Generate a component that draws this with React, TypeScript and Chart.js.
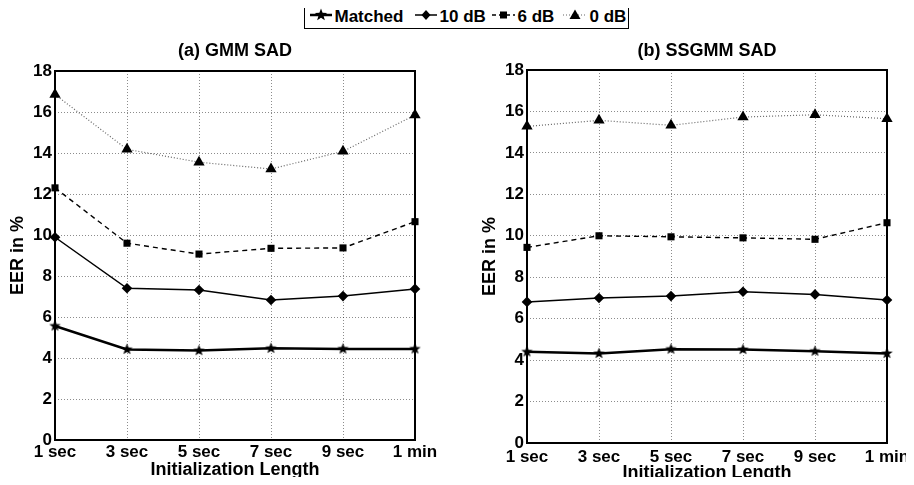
import React, { useEffect, useRef } from "react";
import { Chart, registerables } from "chart.js";
Chart.register(...registerables);

const categories = ["1 sec", "3 sec", "5 sec", "7 sec", "9 sec", "1 min"];
const seriesNames = ["Matched", "10 dB", "6 dB", "0 dB"];
const panelTitles = ["(a) GMM SAD", "(b) SSGMM SAD"];
const xAxisTitle = "Initialization Length";
const yAxisTitle = "EER in %";
const yMin = 0;
const yMax = 18;
const yStep = 2;

// (a) GMM SAD
const gmmMatched = [5.56, 4.42, 4.36, 4.47, 4.44, 4.44];
const gmm10dB = [9.89, 7.4, 7.32, 6.83, 7.02, 7.37];
const gmm6dB = [12.3, 9.6, 9.07, 9.35, 9.37, 10.65];
const gmm0dB = [16.85, 14.18, 13.55, 13.22, 14.08, 15.85];

// (b) SSGMM SAD
const ssMatched = [4.4, 4.32, 4.53, 4.51, 4.43, 4.32];
const ss10dB = [6.81, 7.0, 7.09, 7.3, 7.17, 6.9];
const ss6dB = [9.44, 10.0, 9.95, 9.9, 9.83, 10.63];
const ss0dB = [15.28, 15.57, 15.33, 15.73, 15.84, 15.65];

const FONT = "'Liberation Sans', Arial, Helvetica, sans-serif";

function makeStar(size: number): HTMLCanvasElement {
  const c = document.createElement("canvas");
  c.width = size;
  c.height = size;
  const ctx = c.getContext("2d")!;
  const cx = size / 2, cy = size / 2;
  const R = size / 2 - 0.5, r = R * 0.42;
  ctx.beginPath();
  for (let i = 0; i < 10; i++) {
    const rad = i % 2 === 0 ? R : r;
    const a = -Math.PI / 2 + (i * Math.PI) / 5;
    const px = cx + rad * Math.cos(a), py = cy + rad * Math.sin(a);
    if (i === 0) ctx.moveTo(px, py); else ctx.lineTo(px, py);
  }
  ctx.closePath();
  ctx.fillStyle = "#000";
  ctx.fill();
  return c;
}

function buildDatasets(vals: number[][]) {
  const star = makeStar(13);
  return [
    {
      label: seriesNames[0], data: vals[0], borderColor: "#000", borderWidth: 2.5,
      pointStyle: star as any, pointRadius: 6.5, backgroundColor: "#000", clip: false as any,
    },
    {
      label: seriesNames[1], data: vals[1], borderColor: "#000", borderWidth: 1.5,
      pointStyle: "rectRot", pointRadius: 5.3, backgroundColor: "#000", pointBorderWidth: 0, clip: false as any,
    },
    {
      label: seriesNames[2], data: vals[2], borderColor: "#000", borderWidth: 1.4, borderDash: [5, 4],
      pointStyle: "rect", pointRadius: 5, backgroundColor: "#000", pointBorderWidth: 0, clip: false as any,
    },
    {
      label: seriesNames[3], data: vals[3], borderColor: "#666", borderWidth: 1.2, borderDash: [1, 2],
      pointStyle: "triangle", pointRadius: 6.5, backgroundColor: "#000", pointBorderColor: "#000", pointBorderWidth: 0, clip: false as any,
    },
  ];
}

type PanelProps = {
  title: string;
  vals: number[][];
  left: number; top: number; width: number; height: number;
  areaLeft: number; areaRight: number; areaTop: number; areaBottom: number;
  titleY: number; yTitlePad: number; xTitlePad: number; xTickPad: number;
};

function Panel(p: PanelProps) {
  const ref = useRef<HTMLCanvasElement>(null);
  useEffect(() => {
    const boxPlugin = {
      id: "boxPlugin",
      beforeDatasetsDraw(chart: any) {
        const { ctx, chartArea: a } = chart;
        ctx.save();
        ctx.strokeStyle = "#000";
        ctx.lineWidth = 2;
        ctx.setLineDash([]);
        ctx.strokeRect(a.left, a.top, a.right - a.left, a.bottom - a.top);
        ctx.restore();
      },
      afterDraw(chart: any) {
        const { ctx, chartArea: a } = chart;
        ctx.save();
        ctx.font = `bold 18px ${FONT}`;
        ctx.fillStyle = "#000";
        ctx.textAlign = "center";
        ctx.textBaseline = "middle";
        ctx.fillText(p.title, (a.left + a.right) / 2, p.titleY);
        ctx.restore();
      },
    };
    const tickFont = { family: FONT, size: 17, weight: "bold" as const };
    const titleFont = { family: FONT, size: 18, weight: "bold" as const };
    const chart = new Chart(ref.current!, {
      type: "line",
      data: { labels: categories, datasets: buildDatasets(p.vals) as any },
      options: {
        responsive: false,
        animation: false,
        layout: { padding: { left: 0, right: p.width - p.areaRight, top: p.areaTop, bottom: 0 } },
        plugins: { legend: { display: false }, tooltip: { enabled: false }, title: { display: false } },
        scales: {
          x: {
            type: "category",
            offset: false,
            grid: { color: "rgba(0,0,0,0.45)", lineWidth: 1, drawTicks: false },
            border: { display: false, dash: [1, 2] },
            ticks: { color: "#000", font: tickFont, padding: p.xTickPad, maxRotation: 0, autoSkip: false },
            title: { display: true, text: xAxisTitle, color: "#000", font: titleFont, padding: { top: 0, bottom: p.xTitlePad } },
            afterFit: (s: any) => { s.height = p.height - p.areaBottom; },
          },
          y: {
            min: yMin, max: yMax,
            grid: { color: "rgba(0,0,0,0.45)", lineWidth: 1, drawTicks: false },
            border: { display: false, dash: [1, 2] },
            ticks: { color: "#000", font: tickFont, padding: 3, stepSize: yStep },
            title: { display: true, text: yAxisTitle, color: "#000", font: titleFont, padding: { top: p.yTitlePad, bottom: 0 } },
            afterFit: (s: any) => { s.width = p.areaLeft; },
          },
        },
      } as any,
      plugins: [boxPlugin],
    });
    return () => chart.destroy();
  }, []);
  return (
    <canvas
      ref={ref}
      width={p.width}
      height={p.height}
      style={{ position: "absolute", left: p.left, top: p.top, width: p.width, height: p.height }}
    />
  );
}

function LegendIcon({ kind, w }: { kind: number; w: number }) {
  const cy = 7;
  const cx = w / 2;
  let line: any = null;
  let marker: any = null;
  if (kind === 0) {
    line = <line x1={0} y1={cy} x2={w} y2={cy} stroke="#000" strokeWidth={2.5} />;
    const pts: string[] = [];
    for (let i = 0; i < 10; i++) {
      const r = i % 2 === 0 ? 6.5 : 2.7;
      const a = -Math.PI / 2 + (i * Math.PI) / 5;
      pts.push(`${cx + r * Math.cos(a)},${cy + r * Math.sin(a)}`);
    }
    marker = <polygon points={pts.join(" ")} fill="#000" />;
  } else if (kind === 1) {
    line = <line x1={0} y1={cy} x2={w} y2={cy} stroke="#000" strokeWidth={1.5} />;
    marker = <polygon points={`${cx},${cy - 5} ${cx + 4.5},${cy} ${cx},${cy + 5} ${cx - 4.5},${cy}`} fill="#000" />;
  } else if (kind === 2) {
    line = <line x1={0} y1={cy} x2={w} y2={cy} stroke="#000" strokeWidth={1.4} strokeDasharray="4 3" />;
    marker = <rect x={cx - 3.5} y={cy - 3.5} width={7} height={7} fill="#000" />;
  } else {
    line = <line x1={0} y1={cy} x2={w} y2={cy} stroke="#666" strokeWidth={1.2} strokeDasharray="1 2" />;
    marker = <polygon points={`${cx},${cy - 5.5} ${cx + 5.5},${cy + 4} ${cx - 5.5},${cy + 4}`} fill="#000" />;
  }
  return (
    <svg width={w} height={14} style={{ display: "block" }}>
      {line}
      {marker}
    </svg>
  );
}

function Legend() {
  // page x positions: icon start, icon width, text start
  const items = [
    { icon: 310, w: 22, text: 335 },
    { icon: 415, w: 22, text: 440 },
    { icon: 492, w: 23, text: 518 },
    { icon: 563, w: 24, text: 590 },
  ];
  const boxLeft = 304, boxTop = 4, border = 1.5;
  return (
    <div
      style={{
        position: "absolute", left: boxLeft, top: boxTop, width: 325, height: 25,
        border: `${border}px solid #000`, background: "#fff", boxSizing: "border-box",
        fontFamily: FONT, fontWeight: "bold", fontSize: 17, color: "#000",
      }}
    >
      {items.map((it, i) => (
        <React.Fragment key={i}>
          <div style={{ position: "absolute", left: it.icon - boxLeft - border, top: 15 - 7 - boxTop - border }}>
            <LegendIcon kind={i} w={it.w} />
          </div>
          <div style={{ position: "absolute", left: it.text - boxLeft - border, top: 2, lineHeight: "20px", whiteSpace: "nowrap" }}>
            {seriesNames[i]}
          </div>
        </React.Fragment>
      ))}
    </div>
  );
}

export default function App() {
  return (
    <div style={{ position: "relative", width: 914, height: 485, margin: -8, background: "#fff", overflow: "hidden" }}>
      <Panel
        title={panelTitles[0]}
        vals={[gmmMatched, gmm10dB, gmm6dB, gmm0dB]}
        left={0} top={30} width={460} height={455}
        areaLeft={55} areaRight={415} areaTop={41} areaBottom={410}
        titleY={21} yTitlePad={7.5} xTitlePad={4} xTickPad={2}
      />
      <Panel
        title={panelTitles[1]}
        vals={[ssMatched, ss10dB, ss6dB, ss0dB]}
        left={460} top={30} width={454} height={455}
        areaLeft={67} areaRight={427} areaTop={40} areaBottom={413}
        titleY={21} yTitlePad={19} xTitlePad={1} xTickPad={4}
      />
      <Legend />
    </div>
  );
}
